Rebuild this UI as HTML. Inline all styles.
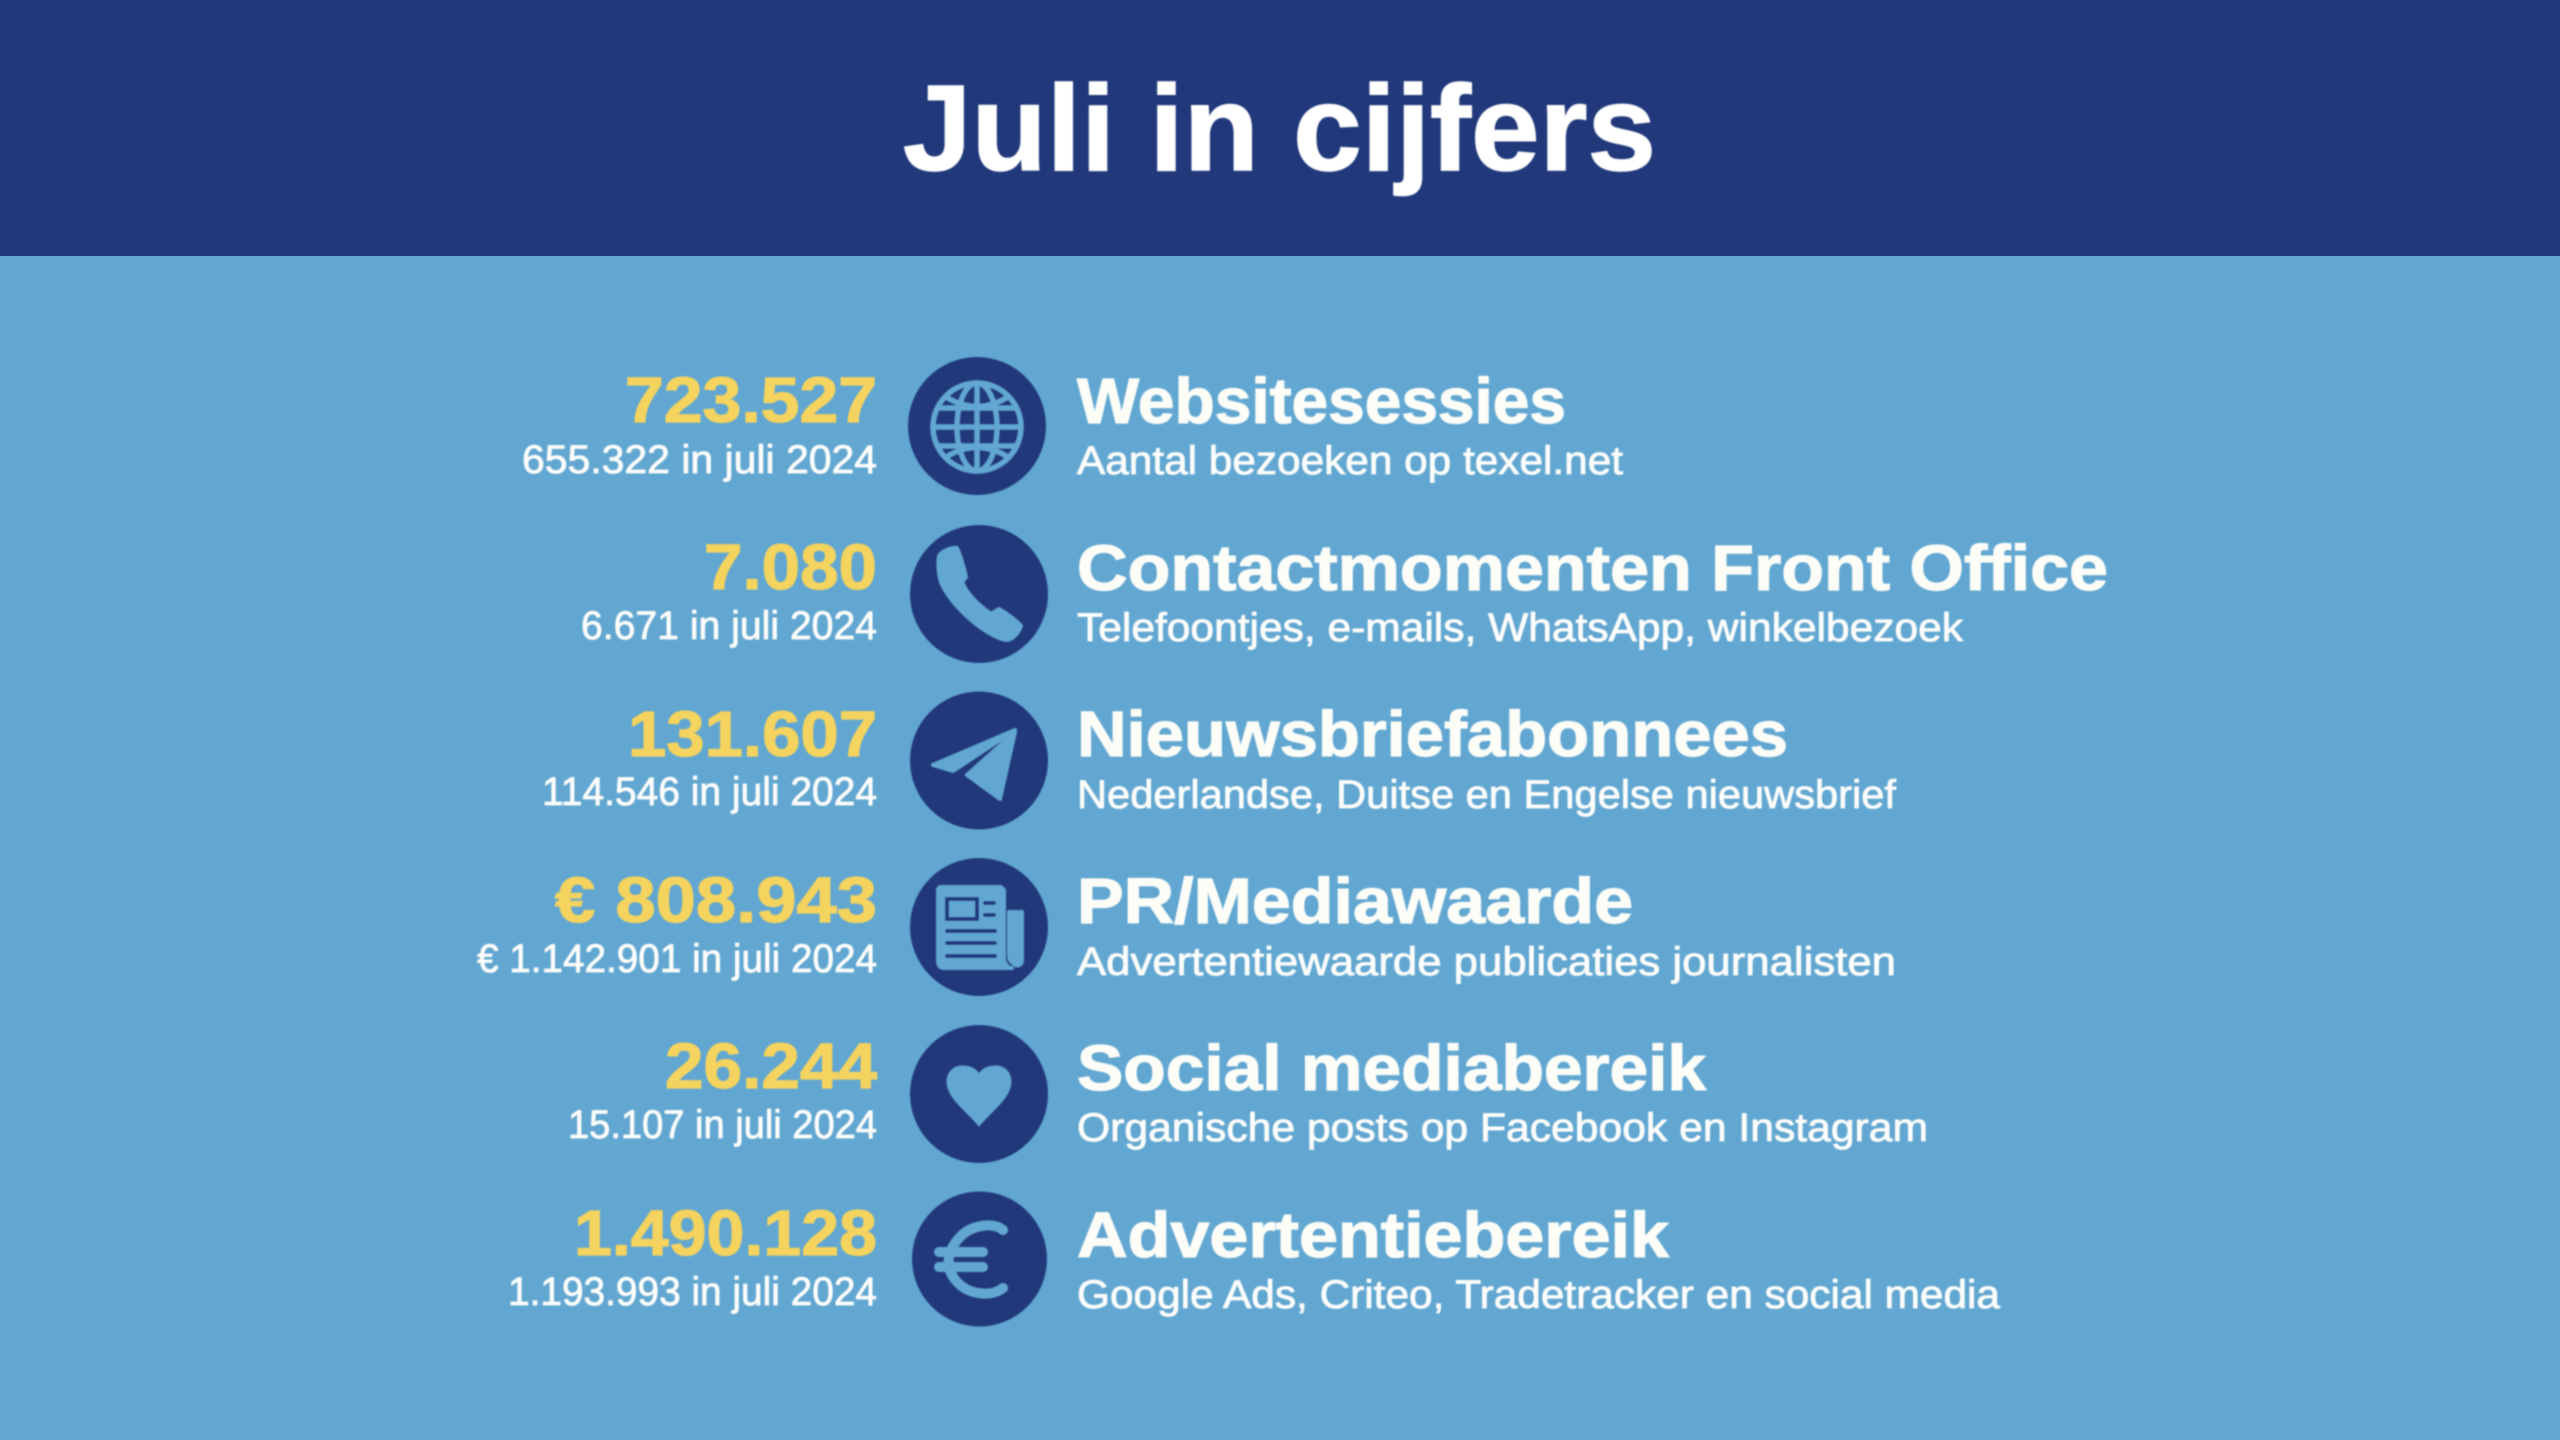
<!DOCTYPE html>
<html lang="nl">
<head>
<meta charset="utf-8">
<title>Juli in cijfers</title>
<style>
html,body{margin:0;padding:0;width:2560px;height:1440px;overflow:hidden;background:#62a7d1}
svg{display:block}
.soft{filter:blur(.7px)}
text{font-family:"Liberation Sans",sans-serif}
.t{font-size:122px;font-weight:700;fill:#fff;stroke:#fff;stroke-width:1.5px}
.n{font-size:64px;font-weight:700;fill:#f4d35e;stroke:#f4d35e;stroke-width:1.2px}
.p{font-size:40px;fill:#fdfdfb;stroke:#fdfdfb;stroke-width:.8px}
.h{font-size:64px;font-weight:700;fill:#fdfdf8;stroke:#fdfdf8;stroke-width:1.2px}
.s{font-size:40px;fill:#fdfdfb;stroke:#fdfdfb;stroke-width:.8px}
.c{fill:#21397b}
.i{fill:#62a7d1;stroke:#62a7d1;stroke-linejoin:round;stroke-linecap:round}
.l{fill:none;stroke:#62a7d1;stroke-linecap:round;stroke-linejoin:round}
.d{fill:none;stroke:#21397b;stroke-linecap:round}
</style>
</head>
<body>
<svg width="2560" height="1440" viewBox="0 0 2560 1440" xmlns="http://www.w3.org/2000/svg">
  <rect x="0" y="0" width="2560" height="1440" fill="#62a7d1"/>
  <rect x="0" y="0" width="2560" height="256" fill="#21397b"/>
  <g class="soft">
  <text class="t" x="903" y="170" textLength="753" lengthAdjust="spacingAndGlyphs">Juli in cijfers</text>

  <!-- Row 1 -->
  <text class="n" x="625" y="422" textLength="252" lengthAdjust="spacingAndGlyphs">723.527</text>
  <text class="p" x="522" y="473" textLength="355" lengthAdjust="spacingAndGlyphs">655.322 in juli 2024</text>
  <g>
    <circle class="c" cx="977" cy="426" r="69"/>
    <g class="l" stroke-width="5.5">
      <circle cx="977" cy="427" r="44"/>
      <ellipse cx="977" cy="427" rx="20" ry="44"/>
      <line x1="977" y1="383" x2="977" y2="471"/>
      <line x1="933" y1="427" x2="1021" y2="427"/>
      <line x1="938" y1="408" x2="1016" y2="408"/>
      <line x1="938" y1="446" x2="1016" y2="446"/>
      <path d="M946 397 Q977 416 1008 397"/>
      <path d="M946 457 Q977 438 1008 457"/>
    </g>
  </g>
  <text class="h" x="1077" y="423" textLength="489" lengthAdjust="spacingAndGlyphs">Websitesessies</text>
  <text class="s" x="1077" y="474" textLength="546" lengthAdjust="spacingAndGlyphs">Aantal bezoeken op texel.net</text>

  <!-- Row 2 -->
  <text class="n" x="704" y="589" textLength="173" lengthAdjust="spacingAndGlyphs">7.080</text>
  <text class="p" x="581" y="639" textLength="296" lengthAdjust="spacingAndGlyphs">6.671 in juli 2024</text>
  <g>
    <circle class="c" cx="979" cy="594" r="69"/>
    <path class="i" stroke-width="4" d="M939 556 C942 551 952 547 957 548 C960 555 964 568 966 577 L962 582 C968 596 980 606 991 614 L999 609 C1006 613 1016 620 1021 626 C1018 634 1012 640 1006 640 C985 636 950 605 941 582 C938 572 938 562 939 556 Z"/>
  </g>
  <text class="h" x="1077" y="590" textLength="1031" lengthAdjust="spacingAndGlyphs">Contactmomenten Front Office</text>
  <text class="s" x="1077" y="641" textLength="886" lengthAdjust="spacingAndGlyphs">Telefoontjes, e-mails, WhatsApp, winkelbezoek</text>

  <!-- Row 3 -->
  <text class="n" x="628" y="756" textLength="249" lengthAdjust="spacingAndGlyphs">131.607</text>
  <text class="p" x="542" y="805" textLength="335" lengthAdjust="spacingAndGlyphs">114.546 in juli 2024</text>
  <g>
    <circle class="c" cx="979" cy="760.5" r="69"/>
    <path class="i" stroke-width="4" d="M1015 730 L933 765 L953 771 Z"/>
    <path class="i" stroke-width="4" d="M1015 732 L1000 799 L967 775 Z"/>
  </g>
  <text class="h" x="1077" y="756" textLength="711" lengthAdjust="spacingAndGlyphs">Nieuwsbriefabonnees</text>
  <text class="s" x="1077" y="808" textLength="819" lengthAdjust="spacingAndGlyphs">Nederlandse, Duitse en Engelse nieuwsbrief</text>

  <!-- Row 4 -->
  <text class="n" x="555" y="922" textLength="322" lengthAdjust="spacingAndGlyphs">€ 808.943</text>
  <text class="p" x="477" y="972" textLength="400" lengthAdjust="spacingAndGlyphs">€ 1.142.901 in juli 2024</text>
  <g>
    <circle class="c" cx="979" cy="927" r="69"/>
    <path class="i" stroke-width="4" d="M940 887 L1001 887 L1004 890 L1004 958 C1004 962 1007 968 1012 968 L944 968 C939 968 938 964 938 960 L938 889 Z"/>
    <path class="i" stroke-width="4" d="M1009 912 L1022 912 L1022 960 C1022 965 1018 967 1014 964 C1011 962 1009 960 1009 955 Z"/>
    <g class="d" stroke-width="3.5">
      <rect x="947" y="899" width="30" height="20"/>
      <line x1="985" y1="903" x2="994" y2="903"/>
      <line x1="985" y1="915" x2="994" y2="915"/>
      <line x1="947" y1="931" x2="995" y2="931"/>
      <line x1="947" y1="943" x2="995" y2="943"/>
      <line x1="947" y1="956" x2="995" y2="956"/>
    </g>
  </g>
  <text class="h" x="1077" y="923" textLength="556" lengthAdjust="spacingAndGlyphs">PR/Mediawaarde</text>
  <text class="s" x="1077" y="975" textLength="819" lengthAdjust="spacingAndGlyphs">Advertentiewaarde publicaties journalisten</text>

  <!-- Row 5 -->
  <text class="n" x="665" y="1088" textLength="212" lengthAdjust="spacingAndGlyphs">26.244</text>
  <text class="p" x="568" y="1138" textLength="309" lengthAdjust="spacingAndGlyphs">15.107 in juli 2024</text>
  <g>
    <circle class="c" cx="979" cy="1094" r="69"/>
    <path class="i" stroke-width="1" d="M979 1126 C968 1112 947 1098 947 1082 C947 1072 954 1066 962 1066 C970 1066 976 1069 979 1074 C982 1069 988 1066 996 1066 C1004 1066 1011 1072 1011 1082 C1011 1098 990 1112 979 1126 Z"/>
  </g>
  <text class="h" x="1077" y="1090" textLength="629" lengthAdjust="spacingAndGlyphs">Social mediabereik</text>
  <text class="s" x="1077" y="1141" textLength="851" lengthAdjust="spacingAndGlyphs">Organische posts op Facebook en Instagram</text>

  <!-- Row 6 -->
  <text class="n" x="574" y="1255" textLength="303" lengthAdjust="spacingAndGlyphs">1.490.128</text>
  <text class="p" x="508" y="1305" textLength="369" lengthAdjust="spacingAndGlyphs">1.193.993 in juli 2024</text>
  <g>
    <circle class="c" cx="979.5" cy="1259" r="67.5"/>
    <g class="l" stroke-width="10">
      <path d="M1003 1230 C993 1222 972 1225 961 1236 C945 1252 945 1270 958 1283 C970 1295 992 1297 1003 1288"/>
      <line x1="939" y1="1252" x2="983" y2="1252"/>
      <line x1="939" y1="1267" x2="983" y2="1267"/>
    </g>
  </g>
  <text class="h" x="1077" y="1257" textLength="592" lengthAdjust="spacingAndGlyphs">Advertentiebereik</text>
  <text class="s" x="1077" y="1308" textLength="923" lengthAdjust="spacingAndGlyphs">Google Ads, Criteo, Tradetracker en social media</text>
  </g>
</svg>
</body>
</html>
